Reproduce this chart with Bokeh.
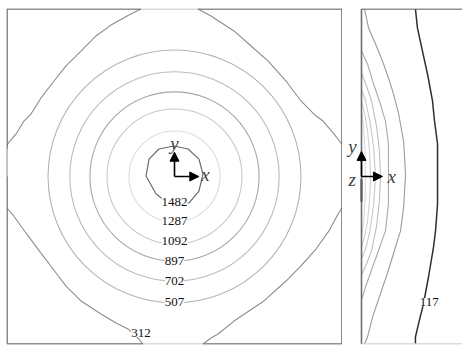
import numpy as np
from bokeh.plotting import figure
from bokeh.layouts import row
from bokeh.models import Range1d, Arrow, NormalHead, Label, LabelSet, ColumnDataSource
from bokeh.core.properties import value
from bokeh.embed import file_html
from bokeh.resources import INLINE

# ---------------- data ----------------
# left panel (x-y plane), domain [-1, 1] x [-1, 1]
circle_levels = [1287, 1092, 897, 702, 507]
circle_radius = [0.272, 0.403, 0.505, 0.625, 0.755]

# 1482 contour (irregular polygon)
c1482_x = [-0.003, 0.081, 0.146, 0.170, 0.146, 0.087, -0.033, -0.110, -0.170, -0.152, -0.093, -0.003]
c1482_y = [0.182, 0.164, 0.104, 0.015, -0.087, -0.158, -0.164, -0.104, 0.003, 0.104, 0.164, 0.182]

# 312 contour, four corner pieces
c312_tl_x = [-0.200, -0.272, -0.379, -0.469, -0.558, -0.648, -0.719, -0.797, -0.857, -0.899, -0.946, -0.988, -1.000]
c312_tl_y = [1.000, 0.964, 0.904, 0.839, 0.749, 0.660, 0.570, 0.469, 0.373, 0.331, 0.254, 0.205, 0.185]
c312_tr_x = [0.140, 0.218, 0.355, 0.457, 0.558, 0.666, 0.755, 0.845, 0.887, 0.952, 0.994, 1.000]
c312_tr_y = [1.000, 0.958, 0.869, 0.779, 0.690, 0.570, 0.451, 0.361, 0.331, 0.254, 0.200, 0.190]
c312_bl_x = [-1.000, -0.964, -0.887, -0.797, -0.707, -0.648, -0.558, -0.439, -0.349, -0.278, -0.224, -0.188]
c312_bl_y = [-0.188, -0.230, -0.337, -0.457, -0.576, -0.654, -0.743, -0.821, -0.875, -0.910, -0.958, -1.000]
c312_br_x = [0.170, 0.218, 0.260, 0.355, 0.534, 0.666, 0.755, 0.845, 0.922, 0.970, 0.994, 1.000]
c312_br_y = [-1.000, -0.964, -0.940, -0.863, -0.743, -0.624, -0.534, -0.433, -0.325, -0.236, -0.195, -0.188]

# contour value labels (left panel)
label_text = ["1482", "1287", "1092", "897", "702", "507", "312"]
label_x = [0.0, 0.0, 0.0, 0.0, 0.0, 0.0, -0.200]
label_y = [-0.150, -0.266, -0.385, -0.504, -0.624, -0.749, -0.934]

# right panel (x-z side view), x from the left edge
r117_x = [0.322, 0.334, 0.364, 0.394, 0.424, 0.436, 0.454, 0.454, 0.454, 0.442, 0.430, 0.400, 0.370, 0.340, 0.322, 0.322]
r117_y = [1.0, 0.887, 0.749, 0.612, 0.451, 0.331, 0.194, 0.015, -0.164, -0.325, -0.421, -0.600, -0.761, -0.881, -0.958, -1.0]
r312_x = [0.018, 0.042, 0.084, 0.125, 0.161, 0.191, 0.221, 0.251, 0.263, 0.251, 0.233, 0.203, 0.161, 0.113, 0.066, 0.036, 0.018]
r312_y = [1.0, 0.887, 0.791, 0.690, 0.588, 0.493, 0.379, 0.212, 0.015, -0.188, -0.325, -0.421, -0.558, -0.701, -0.839, -0.958, -1.0]
r507_x = [0.0, 0.036, 0.072, 0.113, 0.143, 0.161, 0.161, 0.161, 0.143, 0.101, 0.066, 0.024, 0.0]
r507_y = [0.749, 0.672, 0.552, 0.433, 0.331, 0.194, 0.015, -0.164, -0.325, -0.445, -0.540, -0.660, -0.737]
r702_x = [0.0, 0.030, 0.060, 0.090, 0.107, 0.113, 0.107, 0.090, 0.060, 0.030, 0.0]
r702_y = [0.618, 0.540, 0.451, 0.301, 0.152, 0.0, -0.146, -0.296, -0.445, -0.522, -0.588]
r897_x = [0.0, 0.024, 0.048, 0.072, 0.084, 0.072, 0.048, 0.024, 0.0]
r897_y = [0.522, 0.451, 0.343, 0.182, 0.0, -0.176, -0.337, -0.433, -0.493]
r1092_x = [0.0, 0.018, 0.036, 0.048, 0.054, 0.048, 0.036, 0.018, 0.0]
r1092_y = [0.451, 0.379, 0.272, 0.152, 0.0, -0.146, -0.266, -0.361, -0.421]
r1287_x = [0.0, 0.012, 0.021, 0.024, 0.021, 0.012, 0.0]
r1287_y = [0.391, 0.301, 0.152, 0.0, -0.146, -0.278, -0.361]
r1482_x = [0.0, 0.0]
r1482_y = [-0.015, -0.150]

# ---------------- styles ----------------
left_colors = {1482: "#6a6a6a", 1287: "#dcdcdc", 1092: "#c8c8c8", 897: "#a8a8a8",
               702: "#bcbcbc", 507: "#b4b4b4", 312: "#8c8c8c"}
right_colors = {117: "#2e2e2e", 312: "#9a9a9a", 507: "#a8a8a8", 702: "#bdbdbd",
                897: "#c6c6c6", 1092: "#cfcfcf", 1287: "#dadada", 1482: "#5a5a5a"}
BORDER = "#6e6e6e"
BORDER_LIGHT = "#cfcfcf"
SCALE = 167.5  # px per domain unit
TOP_PAD, BOT_PAD = 8, 2
FRAME_H = 336
H = TOP_PAD + FRAME_H + BOT_PAD

def base_fig(width, left_pad, x0, x1):
    top = 1 + 0.5 / SCALE
    p = figure(width=width, height=H, output_backend="svg", toolbar_location=None,
               x_range=Range1d(x0, x1), y_range=Range1d(top - FRAME_H / SCALE, top),
               min_border=0, min_border_left=left_pad, min_border_right=0,
               min_border_top=TOP_PAD, min_border_bottom=BOT_PAD)
    p.axis.visible = False
    p.grid.visible = False
    p.outline_line_color = None
    p.background_fill_color = "white"
    p.border_fill_color = "white"
    return p

# ---------------- left panel ----------------
p1 = base_fig(342, 6, -1 - 0.5 / SCALE, -1 - 0.5 / SCALE + 336 / SCALE)

for lev, r in zip(circle_levels, circle_radius):
    p1.ellipse(x=0, y=0, width=2 * r, height=2 * r, fill_color=None,
               line_color=left_colors[lev], line_width=1.1)
p1.line(c1482_x, c1482_y, line_color=left_colors[1482], line_width=1.2)
for xs, ys in [(c312_tl_x, c312_tl_y), (c312_tr_x, c312_tr_y), (c312_bl_x, c312_bl_y), (c312_br_x, c312_br_y)]:
    p1.line(xs, ys, line_color=left_colors[312], line_width=1.1)

# frame of the left panel
p1.line([-1, c312_tl_x[0]], [1, 1], line_color=BORDER, line_width=1.6)
p1.line([c312_tl_x[0], c312_tr_x[0]], [1, 1], line_color=BORDER_LIGHT, line_width=1.6)
p1.line([c312_tr_x[0], 1], [1, 1], line_color=BORDER, line_width=1.6)
p1.line([-1, c312_bl_x[-1]], [-1, -1], line_color=BORDER, line_width=1.6)
p1.line([c312_bl_x[-1], c312_br_x[0]], [-1, -1], line_color=BORDER_LIGHT, line_width=1.6)
p1.line([c312_br_x[0], 1], [-1, -1], line_color=BORDER, line_width=1.6)
p1.line([-1, -1], [-1, 1], line_color=BORDER, line_width=1.6)
p1.line([-1, -1], [0.0, 0.164], line_color=BORDER_LIGHT, line_width=1.6)
p1.line([1, 1], [-1, 1], line_color=BORDER, line_width=1.6)

src = ColumnDataSource(dict(x=label_x, y=label_y, t=label_text))
p1.add_layout(LabelSet(x="x", y="y", text="t", source=src, text_align="center",
                       text_baseline="middle", text_font=value("Liberation Serif"),
                       text_font_size=value("13px"), text_color="#111111",
                       background_fill_color="white", background_fill_alpha=1.0))

head = dict(size=9, fill_color="black", line_color="black")
p1.add_layout(Arrow(end=NormalHead(**head), x_start=0, y_start=0, x_end=0, y_end=0.145,
                    line_width=1.6, line_color="black"))
p1.add_layout(Arrow(end=NormalHead(**head), x_start=0, y_start=0, x_end=0.145, y_end=0,
                    line_width=1.6, line_color="black"))
p1.add_layout(Label(x=0.0, y=0.195, text="y", text_align="center", text_baseline="middle",
                    text_font="Liberation Serif", text_font_style="italic", text_font_size="19px"))
p1.add_layout(Label(x=0.185, y=0.01, text="x", text_align="center", text_baseline="middle",
                    text_font="Liberation Serif", text_font_style="italic", text_font_size="19px"))

# ---------------- right panel ----------------
p2 = base_fig(120, 0, -19 / SCALE, 101 / SCALE)
for lev, xs, ys in [(1287, r1287_x, r1287_y), (1092, r1092_x, r1092_y), (897, r897_x, r897_y),
                    (702, r702_x, r702_y), (507, r507_x, r507_y), (312, r312_x, r312_y)]:
    p2.line(xs, ys, line_color=right_colors[lev], line_width=1.1)
p2.line(r117_x, r117_y, line_color=right_colors[117], line_width=1.5)
p2.line([0, 0], [-1, 1], line_color=BORDER, line_width=1.6)
p2.line(r1482_x, r1482_y, line_color=right_colors[1482], line_width=2.2)
p2.line([0, 101 / SCALE], [1, 1], line_color=BORDER, line_width=1.6)
p2.line([0, 101 / SCALE], [-1, -1], line_color=BORDER_LIGHT, line_width=1.6)

p2.add_layout(Arrow(end=NormalHead(**head), x_start=0, y_start=0, x_end=0, y_end=0.15,
                    line_width=1.6, line_color="black"))
p2.add_layout(Arrow(end=NormalHead(**head), x_start=0, y_start=0, x_end=0.125, y_end=0,
                    line_width=1.6, line_color="black"))
p2.add_layout(Label(x=-0.054, y=0.18, text="y", text_align="center", text_baseline="middle",
                    text_font="Liberation Serif", text_font_style="italic", text_font_size="19px"))
p2.add_layout(Label(x=-0.056, y=-0.02, text="z", text_align="center", text_baseline="middle",
                    text_font="Liberation Serif", text_font_style="italic", text_font_size="19px"))
p2.add_layout(Label(x=0.18, y=0.0, text="x", text_align="center", text_baseline="middle",
                    text_font="Liberation Serif", text_font_style="italic", text_font_size="19px"))
p2.add_layout(Label(x=0.348, y=-0.75, text="117", text_align="left", text_baseline="middle",
                    text_font="Liberation Serif", text_font_size="13px", text_color="#111111",
                    background_fill_color="white"))

layout = row(p1, p2)
open("out.html", "w").write(file_html(layout, INLINE))
